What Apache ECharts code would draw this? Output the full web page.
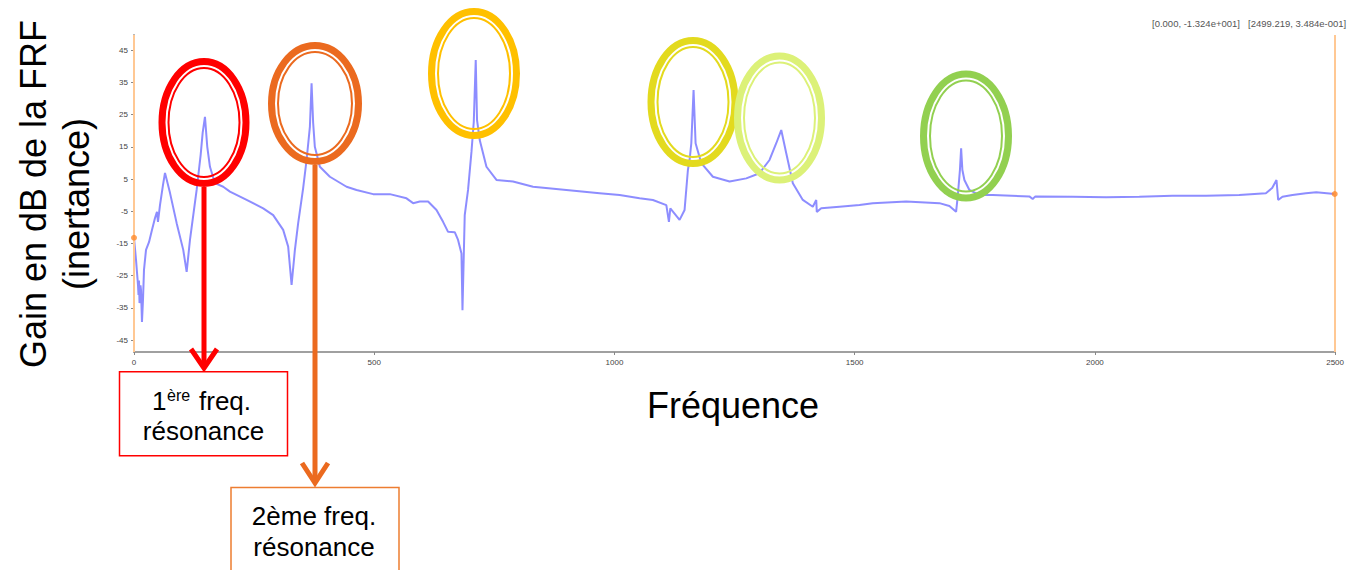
<!DOCTYPE html>
<html><head><meta charset="utf-8">
<script src="https://cdn.jsdelivr.net/npm/echarts@6/dist/echarts.min.js"></script>
<style>html,body{margin:0;padding:0;background:#fff}#c{width:1347px;height:570px}</style>
</head><body><div id="c"></div>
<script>
const freq = [0,4.2,8.3,9.4,10.4,11.5,12.5,13.5,14.6,16.6,18.7,20.8,25.0,31.2,
37.4,43.7,47.8,49.9,54.1,60.3,64.5,74.9,88.8,102.5,
109.6,116.5,130.4,138.7,142.9,147.7,152.5,158.1,168.5,185.7,
199.7,234.4,268.9,289.7,310.5,320.9,328.0,334.9,341.7,352.1,
359.2,366.1,369.6,372.9,376.4,386.9,407.7,442.4,463.2,497.7,
532.5,567.2,580.9,594.9,612.1,629.6,643.3,653.7,667.6,674.5,
681.6,683.7,688.4,695.3,702.4,707.2,711.3,714.0,719.6,733.6,
754.4,788.9,830.5,900.0,969.2,1010.8,1052.4,1080.1,1108.0,1113.4,
1116.3,1135.6,1146.0,1152.9,1156.4,1160.0,1164.7,1168.9,1180.8,1204.9,
1239.6,1274.4,1302.0,1322.8,1336.8,1347.2,1357.6,1371.3,1392.1,1412.9,
1420.0,1421.2,1430.4,1468.4,1510.0,1537.7,1607.2,1676.4,1697.2,1711.1,
1714.5,1719.1,1721.6,1724.2,1728.4,1738.8,1759.6,1787.3,1863.6,1870.5,
1876.1,1953.7,2023.2,2092.4,2161.7,2231.1,2300.4,2355.9,2369.0,2378.0,
2381.5,2390.4,2411.3,2439.1,2460.8,2499.219];
const gain = [-13.24,-20.1,-27.9,-31.0,-26.5,-33.5,-32.6,-28.0,-29.5,-39.4,-32.6,-23.2,-17.0,-14.6,
-10.8,-7.1,-5.2,-8.3,-3.1,3.1,6.9,0.7,-8.7,-17.0,
-23.8,-13.9,1.6,12.4,19.3,24.3,15.0,8.8,3.7,2.6,
1.1,-1.5,-4.1,-6.2,-10.8,-16.0,-27.9,-17.0,-8.7,2.2,
10.9,21.2,34.7,22.4,15.0,8.8,5.7,2.6,1.6,0.3,
0.3,-1.0,-2.5,-2.0,-2.0,-4.6,-8.3,-11.4,-11.5,-13.9,
-18.1,-35.7,-6.2,1.6,13.4,22.7,41.9,23.3,17.1,8.8,
4.7,4.2,2.6,1.6,0.6,0.0,-1.0,-1.5,-3.1,-8.3,
-4.1,-7.7,-4.6,7.8,10.9,16.1,32.6,16.1,9.9,5.7,
4.2,5.2,6.8,10.9,16.1,20.2,13.0,3.7,-1.5,-3.6,
-1.5,-5.2,-4.1,-3.6,-3.1,-2.5,-2.0,-2.5,-3.4,-5.2,
-0.5,7.8,14.5,7.8,4.7,1.6,0.0,0.0,-0.4,-1.2,
-0.4,-0.5,-0.7,-0.5,-0.2,-0.2,0.0,0.6,2.2,4.7,
-1.5,-0.5,0.0,0.6,0.9,0.348];
const xTicks = [0,500,1000,1500,2000,2500];
const yTicks = [-45,-35,-25,-15,-5,5,15,25,35,45];
const cursorFreq = [0, 2499.219];
const cursorGain = [-13.24, 0.3484];
const cursorText1 = '[0.000, -1.324e+001]';
const cursorText2 = '[2499.219, 3.484e-001]';
const yTitle1 = 'Gain en dB de la FRF';
const yTitle2 = '(inertance)';
const xTitle = 'Fréquence';

const FONT = "'Liberation Sans', Arial, sans-serif";
const chart = echarts.init(document.getElementById('c'), null, {renderer: 'svg'});

function ring(cx, cy, rx, ry, color) {
  return [
    {type: 'ellipse', shape: {cx, cy, rx, ry}, style: {fill: null, stroke: color, lineWidth: 7}, z: 100},
    {type: 'ellipse', shape: {cx, cy, rx: rx - 6.5, ry: ry - 6.5}, style: {fill: null, stroke: color, lineWidth: 2}, z: 100}
  ];
}
function txt(x, y, text, size, align, extra) {
  return Object.assign({type: 'text', x, y, z: 110,
    style: {text, fontSize: size, fontFamily: FONT, fill: '#000', align: align || 'center', verticalAlign: 'middle'}}, extra || {});
}
const RED = '#FF0000', ORANGE = '#EB6A1F';

const graphics = [].concat(
  ring(204, 122.5, 42, 61, RED),
  ring(315, 103.5, 43.5, 58, ORANGE),
  ring(474, 73.5, 42.5, 62, '#FFC000'),
  ring(693, 102, 42, 61.5, '#E3DA1E'),
  ring(779.5, 118, 42, 62, '#DCF178'),
  ring(966, 136, 42.5, 62, '#92D050'),
  [
    {type: 'line', shape: {x1: 204, y1: 187, x2: 204, y2: 367}, style: {stroke: RED, lineWidth: 5}, z: 100},
    {type: 'polyline', shape: {points: [[191, 349], [204, 368], [217, 349]]}, style: {stroke: RED, lineWidth: 5, fill: null}, z: 100},
    {type: 'line', shape: {x1: 315, y1: 165, x2: 315, y2: 482}, style: {stroke: ORANGE, lineWidth: 5}, z: 100},
    {type: 'polyline', shape: {points: [[302, 463], [315, 483], [328, 463]]}, style: {stroke: ORANGE, lineWidth: 5, fill: null}, z: 100},
    {type: 'rect', shape: {x: 119.5, y: 371.7, width: 168, height: 84}, style: {fill: '#fff', stroke: RED, lineWidth: 1.5}, z: 100},
    {type: 'rect', shape: {x: 231, y: 487.5, width: 168, height: 95}, style: {fill: '#fff', stroke: '#ED7D31', lineWidth: 1.5}, z: 100},
    txt(152, 401, '1', 26, 'left'),
    txt(167, 395, 'ère', 16, 'left'),
    txt(199, 401, 'freq.', 26, 'left'),
    txt(203.5, 431, 'résonance', 26),
    txt(314, 516, '2ème freq.', 26),
    txt(314, 547, 'résonance', 26),
    txt(733, 405, xTitle, 36),
    txt(33, 194, yTitle1, 36, 'center', {rotation: Math.PI / 2}),
    txt(76, 204, yTitle2, 36, 'center', {rotation: Math.PI / 2}),
    {type: 'text', x: 1152, y: 23, z: 110, style: {text: cursorText1, fontSize: 9.5, fontFamily: FONT, fill: '#555', align: 'left', verticalAlign: 'middle'}},
    {type: 'text', x: 1248, y: 23, z: 110, style: {text: cursorText2, fontSize: 9.5, fontFamily: FONT, fill: '#555', align: 'left', verticalAlign: 'middle'}}
  ]
);

const tickLabel = {
  fontSize: 8, color: '#444444', margin: 6, fontFamily: FONT,
  formatter: v => '{t|' + v + '}',
  rich: {t: {fontSize: 8, color: '#444444', fontFamily: FONT}}
};

chart.setOption({
  animation: false,
  backgroundColor: '#fff',
  grid: {left: 134, right: 11, top: 35, bottom: 218, containLabel: false},
  xAxis: {
    type: 'value', min: 0, max: 2500, interval: 500,
    axisLine: {onZero: false, lineStyle: {color: '#a0a0a0', width: 2}},
    axisTick: {show: true, length: 3, lineStyle: {color: '#888'}},
    axisLabel: Object.assign({customValues: xTicks}, tickLabel),
    splitLine: {show: false}
  },
  yAxis: {
    type: 'value', min: -48.7, max: 49.7,
    axisLine: {show: true, onZero: false, lineStyle: {color: '#a0a0a0', width: 2}},
    axisTick: {show: true, length: 3, customValues: yTicks, lineStyle: {color: '#888'}},
    axisLabel: Object.assign({customValues: yTicks}, tickLabel),
    splitLine: {show: false}
  },
  series: [
    {
      type: 'line', data: freq.map((f, i) => [f, gain[i]]),
      showSymbol: false, symbol: 'none',
      lineStyle: {color: '#5050ff', width: 2, opacity: 0.65},
      z: 3
    },
    {
      type: 'scatter', data: cursorFreq.map((f, i) => [f, cursorGain[i]]),
      symbol: 'circle', symbolSize: 6, itemStyle: {color: '#FF8A2A'}, z: 5,
      markLine: {
        silent: true, symbol: 'none', label: {show: false},
        lineStyle: {color: '#FFC894', width: 2, type: 'solid'},
        data: cursorFreq.map(f => ({xAxis: f}))
      }
    }
  ],
  graphic: graphics
});
</script>
</body></html>
